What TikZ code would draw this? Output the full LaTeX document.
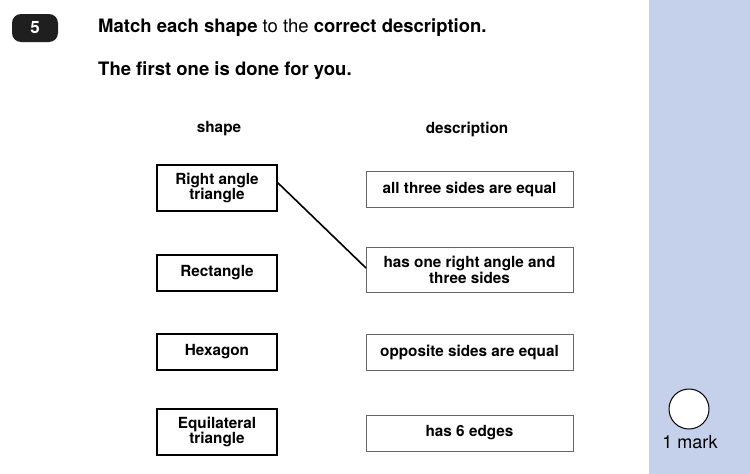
\documentclass[tikz,border=0pt]{standalone}
\usepackage{fontspec}
\setmainfont{TeX Gyre Heros}
\begin{document}
\begin{tikzpicture}[x=1pt,y=-1pt,
  lbox/.style={draw=black,line width=1.3pt,align=center,font=\fontsize{15.3}{14}\selectfont\bfseries,inner sep=0pt},
  rbox/.style={draw=black!60,line width=1pt,align=center,font=\fontsize{15.3}{14}\selectfont\bfseries,inner sep=0pt},
  hd/.style={font=\fontsize{15.3}{15}\selectfont\bfseries}]
\useasboundingbox (0,0) rectangle (750,474);
\fill[white] (0,0) rectangle (750,474);
\fill[fill={rgb,255:red,197;green,209;blue,234}] (649,0) rectangle (750,474);
\node[fill=black!88,rounded corners=9pt,minimum width=46pt,minimum height=28pt,text=white,font=\fontsize{17}{17}\selectfont\bfseries] (num) at (35,28) {5};
\node[anchor=west,inner sep=0pt,font=\fontsize{18.5}{18}\selectfont] (q1) at (98,28) {\textbf{Match each shape} to the \textbf{correct description.}};
\node[anchor=west,inner sep=0pt,font=\fontsize{18.5}{18}\selectfont\bfseries] (q2) at (98,71) {The first one is done for you.};
\node[hd] (hs) at (219,129) {shape};
\node[hd] (hdsc) at (467,129) {description};
\node[lbox,minimum width=120pt,minimum height=46pt] (l1) at (217,188) {Right angle\\triangle};
\node[lbox,minimum width=120pt,minimum height=36pt] (l2) at (217,273) {Rectangle};
\node[lbox,minimum width=120pt,minimum height=36pt] (l3) at (217,352) {Hexagon};
\node[lbox,minimum width=120pt,minimum height=46pt] (l4) at (217,432) {Equilateral\\triangle};
\node[rbox,minimum width=207pt,minimum height=36pt] (r1) at (469.5,189) {all three sides are equal};
\node[rbox,minimum width=207pt,minimum height=45pt] (r2) at (469.5,270) {has one right angle and\\three sides};
\node[rbox,minimum width=207pt,minimum height=36pt] (r3) at (469.5,352) {opposite sides are equal};
\node[rbox,minimum width=207pt,minimum height=36pt] (r4) at (469.5,433) {has 6 edges};
\coordinate (a) at (277,182);
\coordinate (b) at (366,268);
\draw[line width=1.6pt] (a) -- (b);
\node[draw=black,fill=white,circle,line width=1pt,minimum size=40pt,inner sep=0pt] (c) at (689,409) {};
\node[font=\fontsize{18}{18}\selectfont] (mk) at (690,442) {1 mark};
\end{tikzpicture}
\end{document}
